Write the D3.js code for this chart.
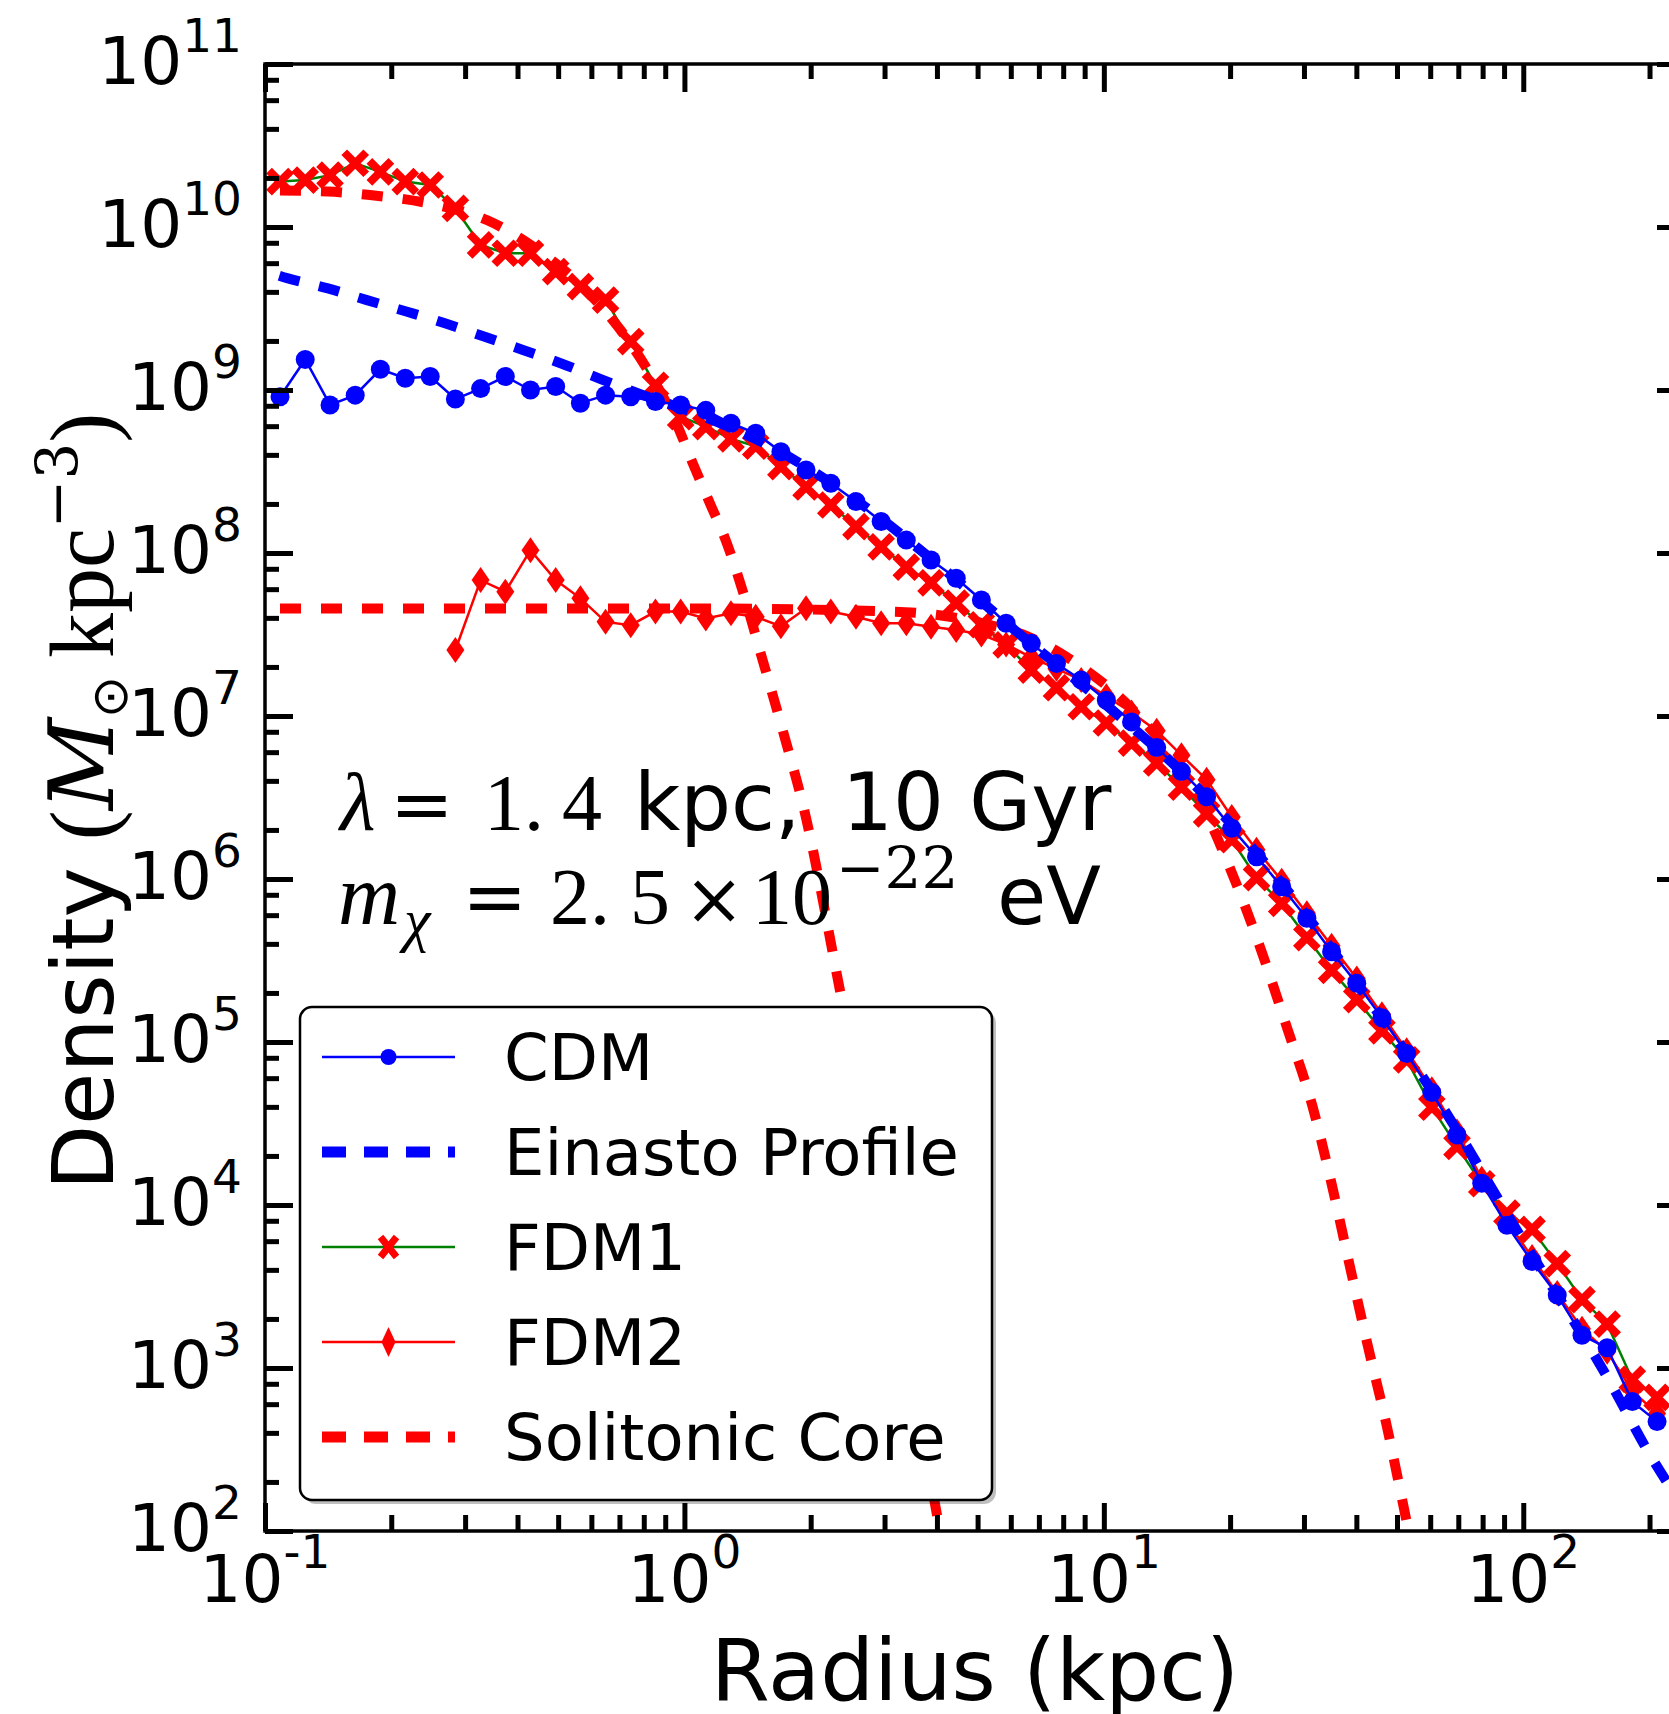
<!DOCTYPE html>
<html>
<head>
<meta charset="utf-8">
<script src="https://cdn.jsdelivr.net/npm/d3@7"></script>
<style>
  html, body { margin: 0; padding: 0; background: #fff; }
  svg { display: block; }
</style>
</head>
<body>
<svg id="chart" width="1669" height="1714"></svg>
<script>
// radial bins (kpc) shared by the three simulation profiles
const radii = [0.1086, 0.1247, 0.1429, 0.1641, 0.1884, 0.2160, 0.2477, 0.2844, 0.3266, 0.3741,
  0.4295, 0.4932, 0.5649, 0.6486, 0.7447, 0.8531, 0.9795, 1.1246, 1.2912, 1.4791,
  1.6982, 1.9498, 2.2336, 2.5645, 2.9444, 3.3806, 3.8726, 4.4463, 5.1050, 5.8479,
  6.7143, 7.7090, 8.8308, 10.139, 11.641, 13.366, 15.311, 17.579, 20.184, 23.121,
  26.546, 30.479, 34.914, 40.087, 46.026, 52.723, 60.534, 69.502, 79.616, 91.411,
  104.95, 120.50, 138.04, 158.49, 181.97, 208.45];

const cdmDensity = [9.1e8, 1.54e9, 8.1e8, 9.3e8, 1.34e9, 1.18e9, 1.21e9, 8.8e8, 1.02e9, 1.21e9,
  1.0e9, 1.05e9, 8.3e8, 9.3e8, 9.1e8, 8.5e8, 8.1e8, 7.5e8, 6.25e8, 5.43e8,
  4.18e8, 3.23e8, 2.68e8, 2.07e8, 1.56e8, 1.20e8, 9.06e7, 7.0e7, 5.15e7, 3.71e7,
  2.79e7, 2.10e7, 1.66e7, 1.25e7, 9.2e6, 6.4e6, 4.57e6, 3.2e6, 2.05e6, 1.37e6,
  8.97e5, 5.74e5, 3.58e5, 2.29e5, 1.41e5, 8.5e4, 4.9e4, 2.69e4, 1.36e4, 7.5e3,
  4.5e3, 2.8e3, 1.59e3, 1.33e3, 622, 469];

const fdm1Density = [1.90e10, 1.94e10, 2.08e10, 2.46e10, 2.18e10, 1.90e10, 1.81e10, 1.30e10, 7.76e9, 6.90e9,
  6.90e9, 5.32e9, 4.31e9, 3.56e9, 1.98e9, 1.07e9, 6.85e8, 5.96e8, 5.01e8, 4.52e8,
  3.39e8, 2.54e8, 1.97e8, 1.45e8, 1.09e8, 8.2e7, 6.55e7, 4.93e7, 3.63e7, 2.73e7,
  1.91e7, 1.49e7, 1.14e7, 9.06e6, 6.82e6, 5.15e6, 3.66e6, 2.51e6, 1.74e6, 1.02e6,
  7.08e5, 4.37e5, 2.75e5, 1.82e5, 1.17e5, 7.76e4, 3.98e4, 2.29e4, 1.35e4, 8.91e3,
  7.08e3, 4.37e3, 2.63e3, 1.86e3, 851, 661];

const fdm2Density = [null, null, null, null, null, null, null, 2.54e7, 6.82e7, 5.79e7,
  1.04e8, 6.82e7, 5.27e7, 3.78e7, 3.61e7, 4.37e7, 4.37e7, 3.97e7, 4.27e7, 4.06e7,
  3.55e7, 4.58e7, 4.37e7, 4.06e7, 3.71e7, 3.71e7, 3.53e7, 3.37e7, 3.16e7, 2.75e7,
  2.29e7, 1.95e7, 1.66e7, 1.32e7, 1.05e7, 8.13e6, 5.75e6, 4.07e6, 2.40e6, 1.51e6,
  9.77e5, 6.17e5, 3.89e5, 2.45e5, 1.48e5, 8.91e4, 5.13e4, 2.82e4, 1.45e4, 7.94e3,
  4.79e3, 2.88e3, 1.74e3, 1.26e3, 724, 525];

// fitted profiles
const einastoRadius = [0.1, 0.1135, 0.1413, 0.175, 0.2183, 0.2685, 0.3342, 0.4121, 0.5105, 0.6295,
  0.7943, 1.0, 1.585, 2.512, 3.981, 6.310, 10.0, 15.85, 25.12, 39.81, 63.10, 100, 158.5, 199.5, 245.5];
const einastoDensity = [5.37e9, 4.84e9, 4.2e9, 3.56e9, 3.02e9, 2.57e9, 2.12e9, 1.76e9, 1.45e9, 1.17e9,
  9.33e8, 7.6e8, 4.57e8, 2.19e8, 8.71e7, 3.16e7, 1.2e7, 4.17e6, 1.12e6, 2.34e5, 4.27e4, 6.03e3, 880, 300, 130];

const core1Radius = [0.1, 0.141, 0.178, 0.251, 0.339, 0.447, 0.562, 0.708, 0.832, 0.955,
  1.047, 1.148, 1.259, 1.380, 1.514, 1.738, 1.919, 2.355, 2.818, 3.388, 4.064, 4.467];
const core1Density = [1.68e10, 1.65e10, 1.57e10, 1.38e10, 1.10e10, 7.24e9, 4.47e9, 2.29e9, 1.23e9, 6.31e8,
  3.55e8, 2.04e8, 1.17e8, 5.75e7, 2.51e7, 7.24e6, 2.82e6, 2.0e5, 1.86e4, 1.32e3, 100, 25];

const core2Radius = [0.1, 1.0, 3.162, 5.012, 6.761, 8.913, 11.22, 14.13, 16.6, 20.14,
  23.55, 27.29, 31.48, 34.91, 38.55, 42.56, 47.21, 51.64, 56.23];
const core2Density = [4.57e7, 4.57e7, 4.37e7, 3.76e7, 2.99e7, 1.97e7, 1.22e7, 6.24e6, 3.35e6, 1.11e6,
  3.85e5, 1.24e5, 3.98e4, 1.35e4, 4.27e3, 1.38e3, 447, 148, 50];

const xMajor = [0.1, 1, 10, 100];
const xExponents = ["-1", "0", "1", "2"];
const yMajor = [1e2, 1e3, 1e4, 1e5, 1e6, 1e7, 1e8, 1e9, 1e10, 1e11];
const yExponents = ["2", "3", "4", "5", "6", "7", "8", "9", "10", "11"];
const xMinorSubs = [2, 3, 4, 5, 6, 7, 8, 9];
const yMinorSubs = [2, 4, 6, 8];

const legendLabels = ["CDM", "Einasto Profile", "FDM1", "FDM2", "Solitonic Core"];

const BLUE = "#0000ff", RED = "#ff0000", GREEN = "#008000";

const plotLeft = 265, plotRight = 1685, plotTop = 64, plotBottom = 1531;

const svg = d3.select("#chart");

const x = d3.scaleLog().domain([0.1, 243]).range([plotLeft, plotRight]);
const y = d3.scaleLog().domain([1e2, 1e11]).range([plotBottom, plotTop]);

svg.append("defs").append("clipPath").attr("id", "plotclip")
  .append("rect")
  .attr("x", plotLeft).attr("y", plotTop)
  .attr("width", plotRight - plotLeft).attr("height", plotBottom - plotTop);

const plot = svg.append("g").attr("clip-path", "url(#plotclip)");

const pairs = (rs, vs) => rs.map((r, i) => [r, vs[i]]);

const line = d3.line()
  .defined(d => d[1] != null)
  .x(d => x(d[0]))
  .y(d => y(d[1]));

const smooth = d3.line()
  .x(d => x(d[0]))
  .y(d => y(d[1]))
  .curve(d3.curveMonotoneX);

const xPath = "M-11,-11L11,11M-11,11L11,-11";
const diamondPath = "M0,-13L9,0L0,13L-9,0Z";

// FDM1: green line, red x markers
const fdm1 = pairs(radii, fdm1Density);
plot.append("path")
  .attr("d", line(fdm1))
  .attr("fill", "none").attr("stroke", GREEN).attr("stroke-width", 2.5);
plot.append("g").selectAll("path")
  .data(fdm1)
  .join("path")
  .attr("transform", d => `translate(${x(d[0])},${y(d[1])})`)
  .attr("d", xPath)
  .attr("stroke", RED).attr("stroke-width", 8).attr("fill", "none");

// FDM2: red line, thin diamonds
const fdm2 = pairs(radii, fdm2Density).filter(d => d[1] != null);
plot.append("path")
  .attr("d", line(fdm2))
  .attr("fill", "none").attr("stroke", RED).attr("stroke-width", 2.5);
plot.append("g").selectAll("path")
  .data(fdm2)
  .join("path")
  .attr("transform", d => `translate(${x(d[0])},${y(d[1])})`)
  .attr("d", diamondPath)
  .attr("fill", RED);

// solitonic cores
[pairs(core1Radius, core1Density), pairs(core2Radius, core2Density)].forEach(core => {
  plot.append("path")
    .attr("d", smooth(core))
    .attr("fill", "none").attr("stroke", RED).attr("stroke-width", 10)
    .attr("stroke-dasharray", "21 20")
    .attr("stroke-dashoffset", 26);
});

// Einasto fit
plot.append("path")
  .attr("d", smooth(pairs(einastoRadius, einastoDensity)))
  .attr("fill", "none").attr("stroke", BLUE).attr("stroke-width", 10)
  .attr("stroke-dasharray", "21 20")
  .attr("stroke-dashoffset", 26);

// CDM
const cdm = pairs(radii, cdmDensity);
plot.append("path")
  .attr("d", line(cdm))
  .attr("fill", "none").attr("stroke", BLUE).attr("stroke-width", 2.5);
plot.append("g").selectAll("circle")
  .data(cdm)
  .join("circle")
  .attr("cx", d => x(d[0]))
  .attr("cy", d => y(d[1]))
  .attr("r", 9.5)
  .attr("fill", BLUE);

// Ticks (inward, on all four sides)
function minors(scale, subs) {
  const [a, b] = scale.domain();
  const out = [];
  for (let e = Math.floor(Math.log10(a)); e <= Math.ceil(Math.log10(b)); e++) {
    subs.forEach(s => {
      const v = s * Math.pow(10, e);
      if (v > a && v < b) out.push(v);
    });
  }
  return out;
}

function tickGroup(axis, transform, values, size) {
  const g = svg.append("g")
    .attr("transform", transform)
    .call(axis.tickValues(values).tickSizeInner(-size).tickSizeOuter(0).tickFormat(""));
  g.select(".domain").remove();
  g.selectAll("line").attr("stroke", "#000").attr("stroke-width", 5);
}

const xMinor = minors(x, xMinorSubs);
const yMinor = minors(y, yMinorSubs);

tickGroup(d3.axisBottom(x), `translate(0,${plotBottom})`, xMajor, 28);
tickGroup(d3.axisBottom(x), `translate(0,${plotBottom})`, xMinor, 16);
tickGroup(d3.axisTop(x), `translate(0,${plotTop})`, xMajor, 28);
tickGroup(d3.axisTop(x), `translate(0,${plotTop})`, xMinor, 15);
tickGroup(d3.axisLeft(y), `translate(${plotLeft},0)`, yMajor, 28);
tickGroup(d3.axisLeft(y), `translate(${plotLeft},0)`, yMinor, 14);
tickGroup(d3.axisRight(y), `translate(${plotRight},0)`, yMajor, 28);
tickGroup(d3.axisRight(y), `translate(${plotRight},0)`, yMinor, 14);

// spines
svg.append("rect")
  .attr("x", plotLeft).attr("y", plotTop)
  .attr("width", plotRight - plotLeft).attr("height", plotBottom - plotTop)
  .attr("fill", "none").attr("stroke", "#000").attr("stroke-width", 3.5);

// tick labels
svg.append("g").selectAll("text")
  .data(xMajor)
  .join("text")
  .attr("x", d => x(d))
  .attr("y", 1602)
  .attr("text-anchor", "middle")
  .attr("font-family", "DejaVu Sans")
  .attr("font-size", 66)
  .each(function(d, i) {
    const t = d3.select(this);
    t.append("tspan").text("10");
    t.append("tspan").attr("dy", -34).attr("font-size", 47).text(xExponents[i]);
  });

svg.append("g").selectAll("text")
  .data(yMajor)
  .join("text")
  .attr("x", 242)
  .attr("y", d => y(d) + 20)
  .attr("text-anchor", "end")
  .attr("font-family", "DejaVu Sans")
  .attr("font-size", 66)
  .each(function(d, i) {
    const t = d3.select(this);
    t.append("tspan").text("10");
    t.append("tspan").attr("dy", -32).attr("font-size", 47).text(yExponents[i]);
  });

// axis labels
svg.append("text")
  .attr("x", (plotLeft + plotRight) / 2).attr("y", 1700)
  .attr("text-anchor", "middle")
  .attr("font-family", "DejaVu Sans")
  .attr("font-size", 85)
  .text("Radius (kpc)");

const yl = svg.append("text")
  .attr("transform", `translate(113,${(plotTop + plotBottom) / 2 + 4}) rotate(-90)`)
  .attr("text-anchor", "middle")
  .attr("font-size", 85);
yl.append("tspan").attr("font-family", "DejaVu Sans").text("Density ");
yl.append("tspan").attr("font-family", "Liberation Serif").attr("font-size", 90).text("(");
yl.append("tspan").attr("font-family", "DejaVu Serif").attr("font-style", "italic").attr("font-size", 90).text("M");
yl.append("tspan").attr("font-family", "DejaVu Sans").attr("font-size", 50).attr("dy", 14).text("\u2299");
yl.append("tspan").attr("font-family", "Liberation Serif").attr("font-size", 90).attr("dy", -14).text("\u2009kpc");
yl.append("tspan").attr("font-family", "DejaVu Serif").attr("font-size", 58).attr("dy", -36).text("\u22123");
yl.append("tspan").attr("font-family", "Liberation Serif").attr("font-size", 90).attr("dy", 36).text(")");

// annotation
const note1 = svg.append("text").attr("y", 830).attr("fill", "#000");
note1.append("tspan").attr("x", 340).attr("font-family", "Liberation Serif").attr("font-style", "italic").attr("font-size", 82).text("\u03bb");
note1.append("tspan").attr("x", 390).attr("font-family", "DejaVu Serif").attr("font-size", 76).text("=");
note1.append("tspan").attr("x", 484).attr("font-family", "Liberation Serif").attr("font-size", 80).text("1.");
note1.append("tspan").attr("x", 562).attr("font-family", "Liberation Serif").attr("font-size", 80).text("4");
note1.append("tspan").attr("x", 634).attr("font-family", "DejaVu Sans").attr("font-size", 80).text("kpc,");
note1.append("tspan").attr("x", 842).attr("font-family", "DejaVu Sans").attr("font-size", 80).text("10 Gyr");

const note2 = svg.append("text").attr("y", 924).attr("fill", "#000");
note2.append("tspan").attr("x", 338).attr("font-family", "Liberation Serif").attr("font-style", "italic").attr("font-size", 86).text("m");
note2.append("tspan").attr("x", 404).attr("dy", 16).attr("font-family", "Liberation Serif").attr("font-style", "italic").attr("font-size", 60).text("\u03c7");
note2.append("tspan").attr("x", 462).attr("dy", -16).attr("font-family", "DejaVu Serif").attr("font-size", 78).text("=");
note2.append("tspan").attr("x", 550).attr("font-family", "Liberation Serif").attr("font-size", 80).text("2.");
note2.append("tspan").attr("x", 630).attr("font-family", "Liberation Serif").attr("font-size", 80).text("5");
note2.append("tspan").attr("x", 684).attr("font-family", "DejaVu Serif").attr("font-size", 72).text("\u00d7");
note2.append("tspan").attr("x", 752).attr("font-family", "Liberation Serif").attr("font-size", 80).text("10");
note2.append("tspan").attr("x", 836).attr("dy", -36).attr("font-family", "DejaVu Serif").attr("font-size", 58).text("\u221222");
note2.append("tspan").attr("x", 997).attr("dy", 36).attr("font-family", "DejaVu Sans").attr("font-size", 80).text("eV");

// legend
const lg = svg.append("g");
lg.append("rect")
  .attr("x", 304).attr("y", 1011).attr("width", 692).attr("height", 493).attr("rx", 12)
  .attr("fill", "#000").attr("opacity", 0.25);
lg.append("rect")
  .attr("x", 300).attr("y", 1007).attr("width", 692).attr("height", 493).attr("rx", 12)
  .attr("fill", "#fff").attr("stroke", "#000").attr("stroke-width", 2.5);

const rowY = d3.scalePoint().domain(legendLabels).range([1057, 1437]);
const hx0 = 322, hx1 = 455, hxm = (hx0 + hx1) / 2;

legendLabels.forEach(name => {
  const cy = rowY(name);
  const g = lg.append("g");
  if (name === "CDM") {
    g.append("line").attr("x1", hx0).attr("x2", hx1).attr("y1", cy).attr("y2", cy)
      .attr("stroke", BLUE).attr("stroke-width", 2.5);
    g.append("circle").attr("cx", hxm).attr("cy", cy).attr("r", 8).attr("fill", BLUE);
  } else if (name === "Einasto Profile" || name === "Solitonic Core") {
    g.append("line").attr("x1", hx0).attr("x2", hx1).attr("y1", cy).attr("y2", cy)
      .attr("stroke", name === "Einasto Profile" ? BLUE : RED).attr("stroke-width", 11)
      .attr("stroke-dasharray", "24 18");
  } else if (name === "FDM1") {
    g.append("line").attr("x1", hx0).attr("x2", hx1).attr("y1", cy).attr("y2", cy)
      .attr("stroke", GREEN).attr("stroke-width", 2.5);
    g.append("path").attr("transform", `translate(${hxm},${cy})`).attr("d", "M-8,-10L8,10M-8,10L8,-10")
      .attr("stroke", RED).attr("stroke-width", 7);
  } else {
    g.append("line").attr("x1", hx0).attr("x2", hx1).attr("y1", cy).attr("y2", cy)
      .attr("stroke", RED).attr("stroke-width", 2.5);
    g.append("path").attr("transform", `translate(${hxm},${cy})`).attr("d", "M0,-15L7,0L0,15L-7,0Z")
      .attr("fill", RED);
  }
  g.append("text")
    .attr("x", 504).attr("y", cy + 23)
    .attr("font-family", "DejaVu Sans").attr("font-size", 64)
    .text(name);
});
</script>
</body>
</html>
